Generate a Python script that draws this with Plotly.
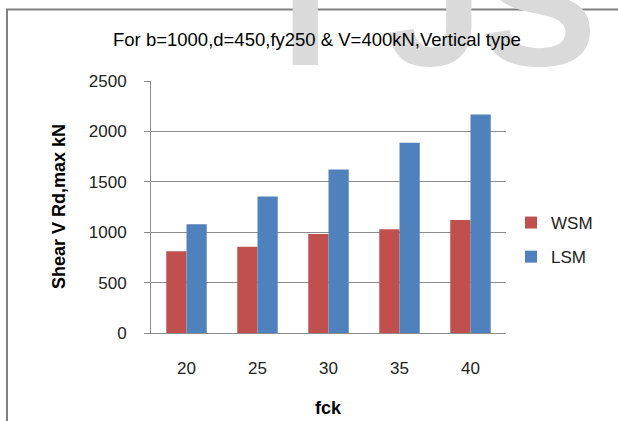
import plotly.graph_objects as go

categories = ["20", "25", "30", "35", "40"]
wsm = [810, 855, 983, 1030, 1122]
lsm = [1078, 1355, 1622, 1888, 2168]
y_ticks = [0, 500, 1000, 1500, 2000, 2500]
title_text = "For b=1000,d=450,fy250 &amp; V=400kN,Vertical type"
y_title = "Shear V Rd,max kN"
x_title = "fck"
watermark = ["I", "J", "S"]

W, H = 618, 421
L, R, T, B = 151, 506, 81, 333


def px2x(px):
    return (px - L) / (R - L)


def py2y(py):
    return (B - py) / (B - T)


FONT = "Liberation Sans, Arial, sans-serif"
GRID = "#8c8c8c"

fig = go.Figure()
fig.add_trace(go.Bar(x=categories, y=wsm, name="WSM", marker_color="#C0504D",
                     marker_line_width=0, legendgroup="a"))
fig.add_trace(go.Bar(x=categories, y=lsm, name="LSM", marker_color="#4F81BD",
                     marker_line_width=0, legendgroup="b"))

annotations = []
# faint watermark letters (behind title)
for letter, cx in zip(watermark, [305, 434, 538]):
    annotations.append(dict(text="<b>" + letter + "</b>", x=px2x(cx), y=py2y(5), xref="paper", yref="paper",
                            xanchor="center", yanchor="middle", showarrow=False,
                            font=dict(family=FONT, size=175, color="#dadada")))
annotations.append(dict(text=title_text, x=px2x(317), y=py2y(40), xref="paper", yref="paper",
                        xanchor="center", yanchor="middle", showarrow=False,
                        font=dict(family=FONT, size=18.5, color="#000000")))
annotations.append(dict(text="<b>" + y_title + "</b>", x=px2x(59), y=py2y(207), xref="paper", yref="paper",
                        xanchor="center", yanchor="middle", showarrow=False, textangle=-90,
                        font=dict(family=FONT, size=18, color="#000000")))
annotations.append(dict(text="<b>" + x_title + "</b>", x=px2x(328), y=py2y(408), xref="paper", yref="paper",
                        xanchor="center", yanchor="middle", showarrow=False,
                        font=dict(family=FONT, size=18, color="#000000")))

fig.update_layout(
    width=W, height=H,
    margin=dict(l=L, r=W - R, t=T, b=H - B, pad=0),
    paper_bgcolor="white", plot_bgcolor="white",
    barmode="group", bargap=0.43, bargroupgap=0,
    font=dict(family=FONT, size=17, color="#222222"),
    showlegend=True,
    legend=dict(x=px2x(511), y=py2y(240), xanchor="left", yanchor="middle",
                traceorder="grouped", tracegroupgap=9,
                font=dict(family=FONT, size=17, color="#222222"),
                bgcolor="rgba(0,0,0,0)"),
    annotations=annotations,
    shapes=[dict(type="rect", xref="paper", yref="paper",
                 x0=px2x(7), x1=px2x(640), y0=py2y(440), y1=py2y(9.5),
                 line=dict(color="#808080", width=2), fillcolor="rgba(0,0,0,0)", layer="below")],
)
fig.update_xaxes(showline=True, linecolor=GRID, linewidth=1, ticks="", showgrid=False,
                 ticklabelstandoff=20, tickfont=dict(size=17, color="#222222"))
fig.update_yaxes(range=[0, 2500], tickvals=y_ticks, showline=True, linecolor=GRID, linewidth=1,
                 ticks="outside", ticklen=6, tickcolor=GRID, showgrid=True, gridcolor=GRID,
                 gridwidth=1, zeroline=False, ticklabelstandoff=14,
                 tickfont=dict(size=17, color="#222222"))

fig.write_html("out.html")
